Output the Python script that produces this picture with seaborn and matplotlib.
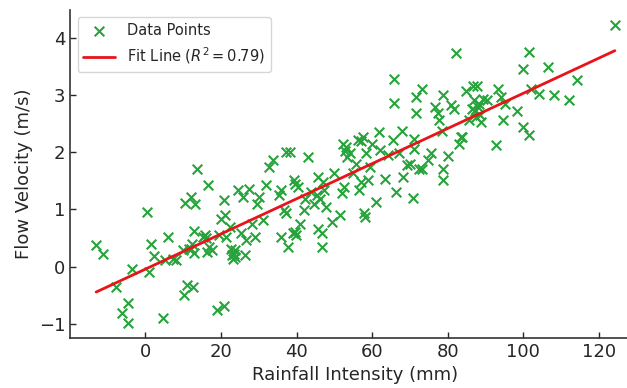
import numpy as np
import pandas as pd
import seaborn as sns
import matplotlib
matplotlib.use("Agg")
import matplotlib.pyplot as plt

# Values
rainfall = [
    -13.0, -11.1, -7.7, -6.1, -4.7, -4.7, -3.4, 0.5, 1.1, 1.6,
    2.2, 4.7, 5.1, 6.0, 7.2, 8.1, 9.9, 10.2, 10.4, 11.0,
    11.5, 12.0, 12.4, 12.6, 13.0, 13.2, 12.8, 13.6, 15.2, 15.8,
    16.3, 16.5, 16.8, 17.7, 19.0, 19.5, 20.0, 20.7, 20.9, 21.1,
    21.4, 22.4, 22.7, 22.9, 23.2, 23.7, 23.8, 24.5, 25.4, 25.9,
    26.4, 26.7, 27.3, 28.1, 28.9, 29.6, 30.0, 31.2, 31.8, 32.8,
    33.7, 35.3, 35.8, 36.0, 36.6, 37.3, 37.3, 37.8, 38.4, 39.0,
    39.2, 39.6, 39.8, 40.3, 40.8, 41.9, 42.2, 43.0, 43.7, 44.6,
    45.6, 45.8, 46.2, 46.7, 46.7, 46.9, 47.2, 47.8, 49.4, 49.9,
    51.5, 52.0, 52.2, 52.6, 52.9, 53.3, 54.2, 55.0, 55.8, 56.3,
    56.6, 57.1, 57.6, 57.9, 58.2, 58.4, 59.0, 59.5, 60.0, 61.1,
    61.8, 62.2, 63.5, 64.3, 65.4, 65.9, 65.9, 66.4, 67.0, 67.8,
    68.2, 69.1, 70.1, 70.7, 71.0, 71.2, 71.5, 71.7, 72.3, 73.3,
    73.3, 74.9, 75.5, 76.5, 77.4, 77.8, 78.5, 78.7, 78.7, 78.7,
    80.0, 80.8, 81.7, 82.2, 82.9, 83.5, 83.8, 84.9, 85.6, 86.7,
    87.0, 87.2, 87.7, 88.3, 88.6, 88.8, 89.3, 90.4, 92.8, 93.4,
    94.1, 94.7, 95.2, 98.4, 100.0, 100.0, 101.6, 101.6, 102.1, 104.1,
    106.6, 108.0, 112.0, 114.1, 124.2,
    16.0, 39.5, 86.5, 87.5, 88.0, 23.5, 57.0, 53.0, 45.5, 12.0,
]
velocity = [
    0.37, 0.22, -0.36, -0.82, -0.64, -0.99, -0.05, 0.96, -0.09, 0.40,
    0.18, -0.90, 0.11, 0.52, 0.14, 0.12, 0.29, -0.50, 1.11, -0.33,
    0.31, 1.22, 0.40, -0.36, 0.23, 1.09, 0.62, 1.70, 0.52, 0.55,
    0.26, 1.42, 0.34, 0.29, -0.76, 0.55, 0.84, -0.69, 1.16, 0.90,
    0.52, 0.69, 0.31, 0.20, 0.14, 0.17, 0.29, 1.34, 0.58, 1.22,
    0.20, 0.46, 1.36, 0.75, 0.52, 1.10, 1.22, 0.81, 1.42, 1.74,
    1.87, 1.25, 0.52, 1.34, 0.99, 2.01, 0.93, 0.34, 2.01, 0.58,
    1.51, 1.45, 0.55, 1.39, 0.75, 0.99, 1.19, 1.92, 1.31, 1.10,
    1.57, 0.66, 1.19, 0.58, 0.34, 1.48, 1.34, 1.04, 0.78, 1.63,
    0.90, 1.28, 2.15, 1.39, 2.03, 1.92, 1.98, 1.63, 1.80, 2.21,
    1.34, 1.48, 2.27, 0.93, 0.87, 1.98, 1.51, 1.74, 2.15, 1.13,
    2.36, 2.04, 1.54, 1.95, 2.21, 3.29, 2.86, 1.31, 1.98, 2.38,
    1.57, 1.77, 1.80, 1.20, 2.24, 2.06, 2.97, 2.68, 1.71, 3.11,
    1.71, 1.86, 1.98, 2.79, 2.68, 2.56, 2.38, 3.00, 1.71, 1.51,
    1.93, 2.82, 2.76, 3.74, 2.15, 2.27, 2.27, 3.08, 2.56, 3.17,
    2.91, 2.73, 3.17, 2.85, 2.65, 2.53, 2.94, 2.91, 2.12, 3.11,
    2.97, 2.56, 2.85, 2.73, 3.46, 2.45, 3.76, 2.30, 3.11, 3.03,
    3.50, 3.00, 2.91, 3.26, 4.23,
    0.50, 0.60, 2.75, 2.62, 2.80, 0.22, 2.20, 2.10, 1.25, 0.30,
]
fit_label = "Fit Line ($R^2 = 0.79$)"

df = pd.DataFrame({"rainfall": rainfall, "velocity": velocity})

# least squares fit line over the data range
slope, intercept = np.polyfit(df["rainfall"], df["velocity"], 1)
fit_df = pd.DataFrame({"rainfall": [df["rainfall"].min(), df["rainfall"].max()]})
fit_df["velocity"] = slope * fit_df["rainfall"] + intercept

sns.set_style("ticks")
plt.rcParams["font.family"] = ["DejaVu Sans"]
plt.rcParams["xtick.direction"] = "in"
plt.rcParams["ytick.direction"] = "in"

fig = plt.figure(figsize=(6.27, 3.88), dpi=100)
ax = fig.add_axes([0.112, 0.129, 0.91, 0.845])

sns.scatterplot(data=df, x="rainfall", y="velocity", marker="x", color="#27a33b",
                s=48, linewidth=1.5, label="Data Points", ax=ax)
sns.lineplot(data=fit_df, x="rainfall", y="velocity", color="#e8141a", linewidth=2,
             label=fit_label, ax=ax)

ax.set_xlabel("Rainfall Intensity (mm)", fontsize=13)
ax.set_ylabel("Flow Velocity (m/s)", fontsize=13)
ax.set_xticks([0, 20, 40, 60, 80, 100, 120])
ax.set_yticks([-1, 0, 1, 2, 3, 4])
ax.tick_params(labelsize=13, length=4, width=1)
for side in ["left", "bottom"]:
    ax.spines[side].set_linewidth(1.2)
    ax.spines[side].set_color("#333333")
sns.despine(ax=ax)

ax.legend(loc="upper left", fontsize=10.5, frameon=True, handlelength=2.2)

plt.savefig("out.png", dpi=100)
